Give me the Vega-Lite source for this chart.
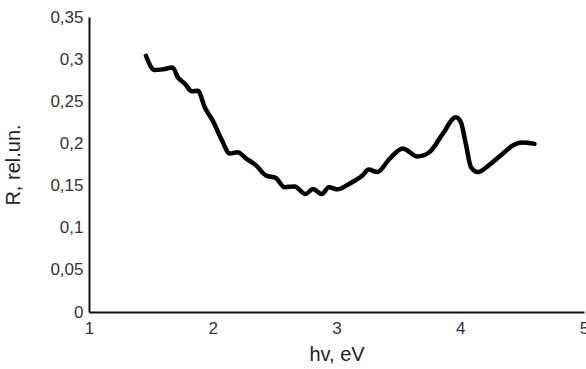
{
  "$schema": "https://vega.github.io/schema/vega-lite/v6.json",
  "autosize": {"type": "none"},
  "width": 495,
  "height": 295,
  "padding": {"left": 89, "top": 17, "right": 2, "bottom": 57},
  "background": "white",
  "config": {
    "view": {"stroke": null},
    "font": "Liberation Sans",
    "axis": {
      "grid": false,
      "ticks": false,
      "domainColor": "#111",
      "domainWidth": 2,
      "labelFont": "Liberation Sans",
      "labelFontSize": 17,
      "labelColor": "#333",
      "titleFont": "Liberation Sans",
      "titleFontSize": 20,
      "titleFontWeight": "normal",
      "titleColor": "#222"
    }
  },
  "data": {
    "values": [
      {"x": 1.46, "y": 0.304},
      {"x": 1.53, "y": 0.287},
      {"x": 1.6, "y": 0.288},
      {"x": 1.675, "y": 0.29},
      {"x": 1.72, "y": 0.278},
      {"x": 1.774, "y": 0.271},
      {"x": 1.83, "y": 0.262},
      {"x": 1.88, "y": 0.2625},
      {"x": 1.935, "y": 0.243},
      {"x": 2.0, "y": 0.227},
      {"x": 2.07, "y": 0.205},
      {"x": 2.137, "y": 0.188},
      {"x": 2.2, "y": 0.1895},
      {"x": 2.27, "y": 0.182},
      {"x": 2.35, "y": 0.174},
      {"x": 2.43, "y": 0.162},
      {"x": 2.51, "y": 0.159},
      {"x": 2.58, "y": 0.148},
      {"x": 2.66, "y": 0.149},
      {"x": 2.75, "y": 0.14},
      {"x": 2.81, "y": 0.146},
      {"x": 2.88, "y": 0.14},
      {"x": 2.94, "y": 0.148},
      {"x": 3.01, "y": 0.1455},
      {"x": 3.09, "y": 0.151},
      {"x": 3.15, "y": 0.156},
      {"x": 3.21, "y": 0.162},
      {"x": 3.26, "y": 0.169},
      {"x": 3.33, "y": 0.166},
      {"x": 3.43, "y": 0.182},
      {"x": 3.535, "y": 0.194},
      {"x": 3.655, "y": 0.1845},
      {"x": 3.75, "y": 0.1895},
      {"x": 3.857, "y": 0.211},
      {"x": 3.965, "y": 0.231},
      {"x": 4.005, "y": 0.225},
      {"x": 4.045, "y": 0.1995},
      {"x": 4.086, "y": 0.172},
      {"x": 4.14, "y": 0.166},
      {"x": 4.23, "y": 0.174},
      {"x": 4.34, "y": 0.1875},
      {"x": 4.435, "y": 0.1985},
      {"x": 4.5, "y": 0.201},
      {"x": 4.6, "y": 0.1995}
    ]
  },
  "mark": {"type": "line", "color": "#000", "strokeWidth": 4.5, "interpolate": "monotone", "strokeCap": "round", "strokeJoin": "round"},
  "encoding": {
    "x": {
      "field": "x",
      "type": "quantitative",
      "scale": {"domain": [1, 5], "nice": false, "zero": false},
      "axis": {"title": "hv, eV", "values": [1, 2, 3, 4, 5], "labelPadding": 8, "titlePadding": 8, "labelFlush": false}
    },
    "y": {
      "field": "y",
      "type": "quantitative",
      "scale": {"domain": [0, 0.35], "nice": false},
      "axis": {
        "title": "R, rel.un.",
        "values": [0, 0.05, 0.1, 0.15, 0.2, 0.25, 0.3, 0.35],
        "labelExpr": "replace(format(datum.value, '~g'), '.', ',')",
        "labelPadding": 6,
        "titlePadding": 26,
        "labelFlush": false
      }
    }
  }
}
